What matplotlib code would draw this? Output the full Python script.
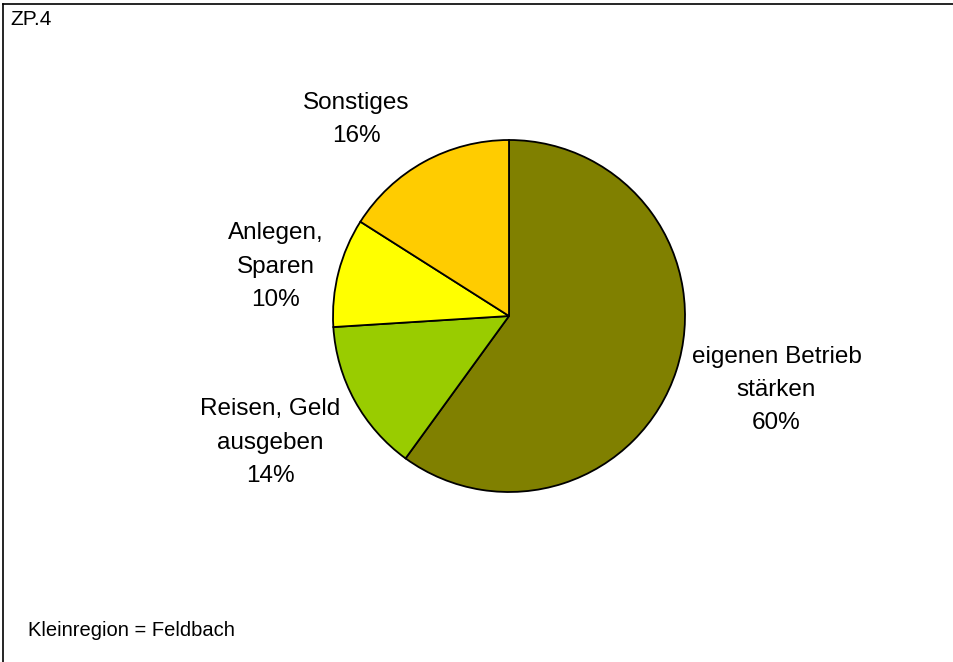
import matplotlib
matplotlib.use("Agg")
import matplotlib.pyplot as plt
from matplotlib.lines import Line2D

plt.rcParams['font.family'] = ['Liberation Sans', 'DejaVu Sans']

labels = ["eigenen Betrieb\nstärken", "Reisen, Geld\nausgeben", "Anlegen,\nSparen", "Sonstiges"]
shares = [60, 14, 10, 16]
colors = ["#808000", "#99CC00", "#FFFF00", "#FFCC00"]

W, H = 954, 662
fig = plt.figure(figsize=(W / 100, H / 100), dpi=100)

# pie centre and radius in pixels
cx, cy, r = 509, 316, 176
ax = fig.add_axes([(cx - r) / W, (H - cy - r) / H, 2 * r / W, 2 * r / H])
ax.pie(shares, colors=colors, startangle=90, counterclock=False, radius=1,
       wedgeprops=dict(edgecolor="black", linewidth=1.3))
ax.set_xlim(-1, 1)
ax.set_ylim(-1, 1)
ax.set_aspect("equal")
ax.axis("off")

# label positions (in pie radii), hand placed like the original
pos = [(1.52, -0.42), (-1.358, -0.72), (-1.324, 0.28), (-0.869, 1.115)]
for lab, v, (x, y) in zip(labels, shares, pos):
    ax.text(x, y, f"{lab}\n{v}%", ha="center", va="center", fontsize=17.5,
            linespacing=1.66, clip_on=False)

fig.text(10 / W, 1 - 10 / H, "ZP.4", ha="left", va="top", fontsize=15)
fig.text(28 / W, 1 - 630 / H, "Kleinregion = Feldbach", ha="left", va="center", fontsize=14.5)

# frame (only top and left edges visible in the original crop)
fig.add_artist(Line2D([3 / W, 3 / W], [0, 1 - 4 / H], color="black", lw=1.2, transform=fig.transFigure))
fig.add_artist(Line2D([3 / W, 1], [1 - 4 / H, 1 - 4 / H], color="black", lw=1.2, transform=fig.transFigure))

fig.savefig("out.png", dpi=100)
